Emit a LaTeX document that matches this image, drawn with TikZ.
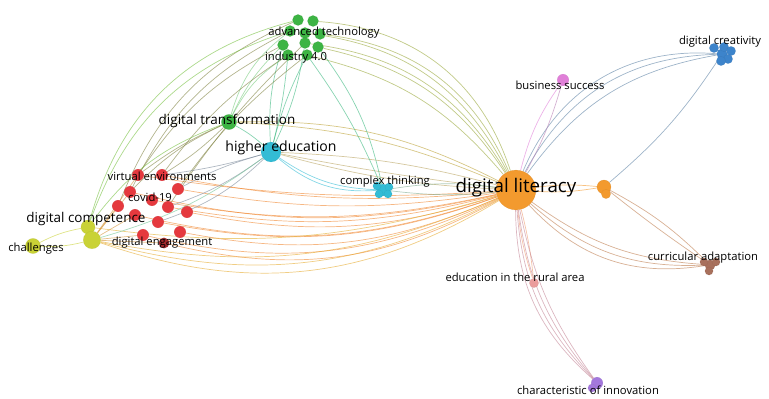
\documentclass[tikz,border=0pt]{standalone}
\usepackage{fontspec}
\setmainfont{Open Sans}
\usetikzlibrary{positioning}

\definecolor{litorange}{HTML}{F39A2E}
\definecolor{techgreen}{HTML}{3DB444}
\definecolor{covidred}{HTML}{E5393E}
\definecolor{compyellow}{HTML}{C9D236}
\definecolor{educyan}{HTML}{33BCD5}
\definecolor{creablue}{HTML}{3D84CB}
\definecolor{busipink}{HTML}{E07FD8}
\definecolor{currbrown}{HTML}{A8705C}
\definecolor{innovpurple}{HTML}{A478DD}
\definecolor{ruralrose}{HTML}{EA9C9C}

\pgfdeclarelayer{bg}
\pgfsetlayers{bg,main}

\begin{document}
\begin{tikzpicture}[
		x=0.03cm, y=-0.03cm,
		every node/.style={circle, inner sep=0pt},
		ball/.style={fill=#1, draw=#1!75!black, draw opacity=0.25, line width=0.3pt},
		tag/.style={rectangle, font=\fontsize{9.6}{11}\selectfont, text=black},
		link/.style={draw=#1, draw opacity=0.6, line width=0.6pt}
	]
  \useasboundingbox (0,0) rectangle (769,399);
  % clusters
  \node (dl) [ball=litorange, minimum size=34pt] at (516,190) {};
  \node (orng) [ball=litorange, minimum size=12pt] at (604,187) {};
  \node [ball=litorange, minimum size=8pt] at (606,194) {};
  \node (crea) [ball=creablue, minimum size=9pt] at (722,54) {};
  \foreach \x/\y in {714/48, 724/47, 731/51, 728/59, 721/61}
    \node [ball=creablue, minimum size=8pt] at (\x,\y) {};
  \node (busi) [ball=busipink, minimum size=10pt] at (563,80) {};
  \node (curr) [ball=currbrown, minimum size=9pt] at (710,265) {};
  \foreach \x/\y in {704/262, 716/262, 709/271}
    \node [ball=currbrown, minimum size=7pt] at (\x,\y) {};
  \node (rural) [ball=ruralrose, minimum size=8pt] at (534,283) {};
  \node (innov) [ball=innovpurple, minimum size=10pt] at (597,383) {};
  \node [ball=innovpurple, minimum size=7pt] at (592,388) {};
  \node (cplx) [ball=educyan, minimum size=10pt] at (383,190) {};
  \foreach \x/\y in {377/186, 389/187, 379/194, 388/194}
    \node [ball=educyan, minimum size=7pt] at (\x,\y) {};
  \node (hied) [ball=educyan, minimum size=17pt] at (271,152) {};
  \node (dtra) [ball=techgreen, minimum size=13pt] at (229,122) {};
  \foreach \n/\x/\y in {1/298/20, 2/313/21, 3/290/31, 4/305/33, 5/320/34,
                        6/283/45, 7/305/43, 8/318/47, 9/288/55, 10/307/55}
    \node (g\n) [ball=techgreen, minimum size=9.5pt] at (\x,\y) {};
  \foreach \n/\x/\y in {1/138/175, 2/162/175, 3/178/189, 4/130/192, 5/152/200,
                        6/168/207, 7/187/212, 8/135/215, 9/158/222, 10/180/232,
                        11/143/235, 13/118/206}
    \node (r\n) [ball=covidred, minimum size=10pt] at (\x,\y) {};
  \node (r12) [ball=covidred!70!black, minimum size=9pt] at (164,243) {};
  \node (comp2) [ball=compyellow, minimum size=12pt] at (88,227) {};
  \node (comp) [ball=compyellow, minimum size=15pt] at (92,240) {};
  \node (chal) [ball=compyellow, minimum size=13pt] at (33,246) {};

  % links
  \begin{pgfonlayer}{bg}
    \foreach \t/\b in {r1/6, r2/8, r3/9, r5/11, r6/12, r7/14, r9/15, r10/17, r11/19, r12/21, r8/16, r4/13}
      \draw[link=litorange!80!covidred] (dl) to[bend left=\b] (\t);
    \foreach \b in {17, 21, 25}
      \draw[link=litorange!70!compyellow] (dl) to[bend left=\b] (comp);
    \draw[link=litorange!60!compyellow] (dl) to[bend left=12] (comp2);
    \foreach \b in {-6, 2, 6}
      \draw[link=litorange!70!educyan] (dl) to[bend left=\b] (hied);
    \foreach \b in {10, 14}
      \draw[link=litorange!70!techgreen] (dl) to[bend right=\b] (dtra);
    \foreach \t/\b in {g8/22, g10/18, g5/30, g7/26, g2/34, g4/28}
      \draw[link=techgreen!50!litorange] (dl) to[bend right=\b] (\t);
    \foreach \b in {-8, 6}
      \draw[link=educyan!60!litorange] (dl) to[bend left=\b] (cplx);
    \foreach \b in {22, 30, 36}
      \draw[link=creablue!50!gray] (dl) to[bend left=\b] (crea);
    \draw[link=creablue!50!gray] (orng) to[bend right=8] (crea);
    \draw[link=busipink] (dl) to[bend left=10] (busi);
    \draw[link=busipink!60!gray] (dl) to[bend right=6] (busi);
    \draw[link=litorange] (dl) to[bend left=6] (orng);
    \draw[link=litorange] (dl) to[bend right=6] (orng);
    \foreach \b in {16, 22, 28}
      \draw[link=currbrown!70!litorange] (dl) to[bend right=\b] (curr);
    \draw[link=currbrown!70!litorange] (orng) to[bend left=8] (curr);
    \draw[link=currbrown!70!litorange] (orng) to[bend right=2] (curr);
    \foreach \b in {-6, 4}
      \draw[link=ruralrose!60!litorange] (dl) to[bend left=\b] (rural);
    \foreach \b in {12, 16, 20, 24}
      \draw[link=innovpurple!60!litorange] (dl) to[bend right=\b] (innov);
    % green cluster
    \foreach \s/\b in {g6/10, g9/14, g3/18}
      \draw[link=techgreen!70] (\s) to[bend right=\b] (dtra);
    \foreach \s/\b in {g9/4, g10/-6, g7/8, g6/-10}
      \draw[link=techgreen!60!educyan] (\s) to[bend left=\b] (hied);
    \foreach \s/\t/\b in {g6/r1/14, g9/r2/10, g3/r4/18, g10/r3/8, g7/r6/6, g1/r13/22}
      \draw[link=techgreen!60!covidred] (\s) to[bend right=\b] (\t);
    \foreach \s/\b in {g1/30, g3/26}
      \draw[link=techgreen!60!compyellow] (\s) to[bend right=\b] (comp2);
    \foreach \s/\b in {g10/6, g8/12}
      \draw[link=techgreen!60!educyan] (\s) to[bend left=\b] (cplx);
    % higher education and digital transformation
    \foreach \b in {16, 22}
      \draw[link=educyan] (hied) to[bend right=\b] (cplx);
    \foreach \t/\b in {r2/4, r3/-6, r6/8, r9/12}
      \draw[link=educyan!60!covidred] (hied) to[bend left=\b] (\t);
    \draw[link=educyan!60!compyellow] (hied) to[bend left=10] (comp);
    \foreach \t/\b in {r1/6, r2/-6, r4/10}
      \draw[link=techgreen!60!covidred] (dtra) to[bend right=\b] (\t);
    \draw[link=techgreen!60!compyellow] (dtra) to[bend right=16] (comp2);
    \draw[link=techgreen!60!educyan] (dtra) to[bend left=6] (hied);
    % competence
    \foreach \t in {r4, r8, r11, r13, r1, r12}
      \draw[link=compyellow!60!covidred] (comp) -- (\t);
    \draw[link=compyellow] (comp) to[bend left=8] (chal);
    \draw[link=compyellow] (comp2) to[bend right=8] (chal);
  \end{pgfonlayer}

  % labels
  \node (dl_label) [tag, font=\fontsize{16}{18}\selectfont] at (516,188) {digital literacy};
  \node (busi_label) [tag] at (560,85) {business success};
  \node (crea_label) [tag] at (720,42) {digital creativity};
  \node (curr_label) [tag] at (703,258) {curricular adaptation};
  \node (rural_label) [tag] at (515,277) {education in the rural area};
  \node (innov_label) [tag] at (588,390) {characteristic of innovation};
  \node (cplx_label) [tag] at (385,182) {complex thinking};
  \node (hied_label) [tag, font=\fontsize{12}{14}\selectfont] at (281,148) {higher education};
  \node (dtra_label) [tag, font=\fontsize{11.5}{13}\selectfont] at (227,121) {digital transformation};
  \node (adv_label) [tag] at (324,33) {advanced technology};
  \node (ind_label) [tag] at (296,58) {industry 4.0};
  \node (virt_label) [tag] at (162,176) {virtual environments};
  \node (covid_label) [tag] at (150,197) {covid-19};
  \node (eng_label) [tag] at (162,243) {digital engagement};
  \node (comp_label) [tag, font=\fontsize{11.5}{13}\selectfont] at (86,219) {digital competence};
  \node (chal_label) [tag] at (36,249) {challenges};
\end{tikzpicture}
\end{document}
